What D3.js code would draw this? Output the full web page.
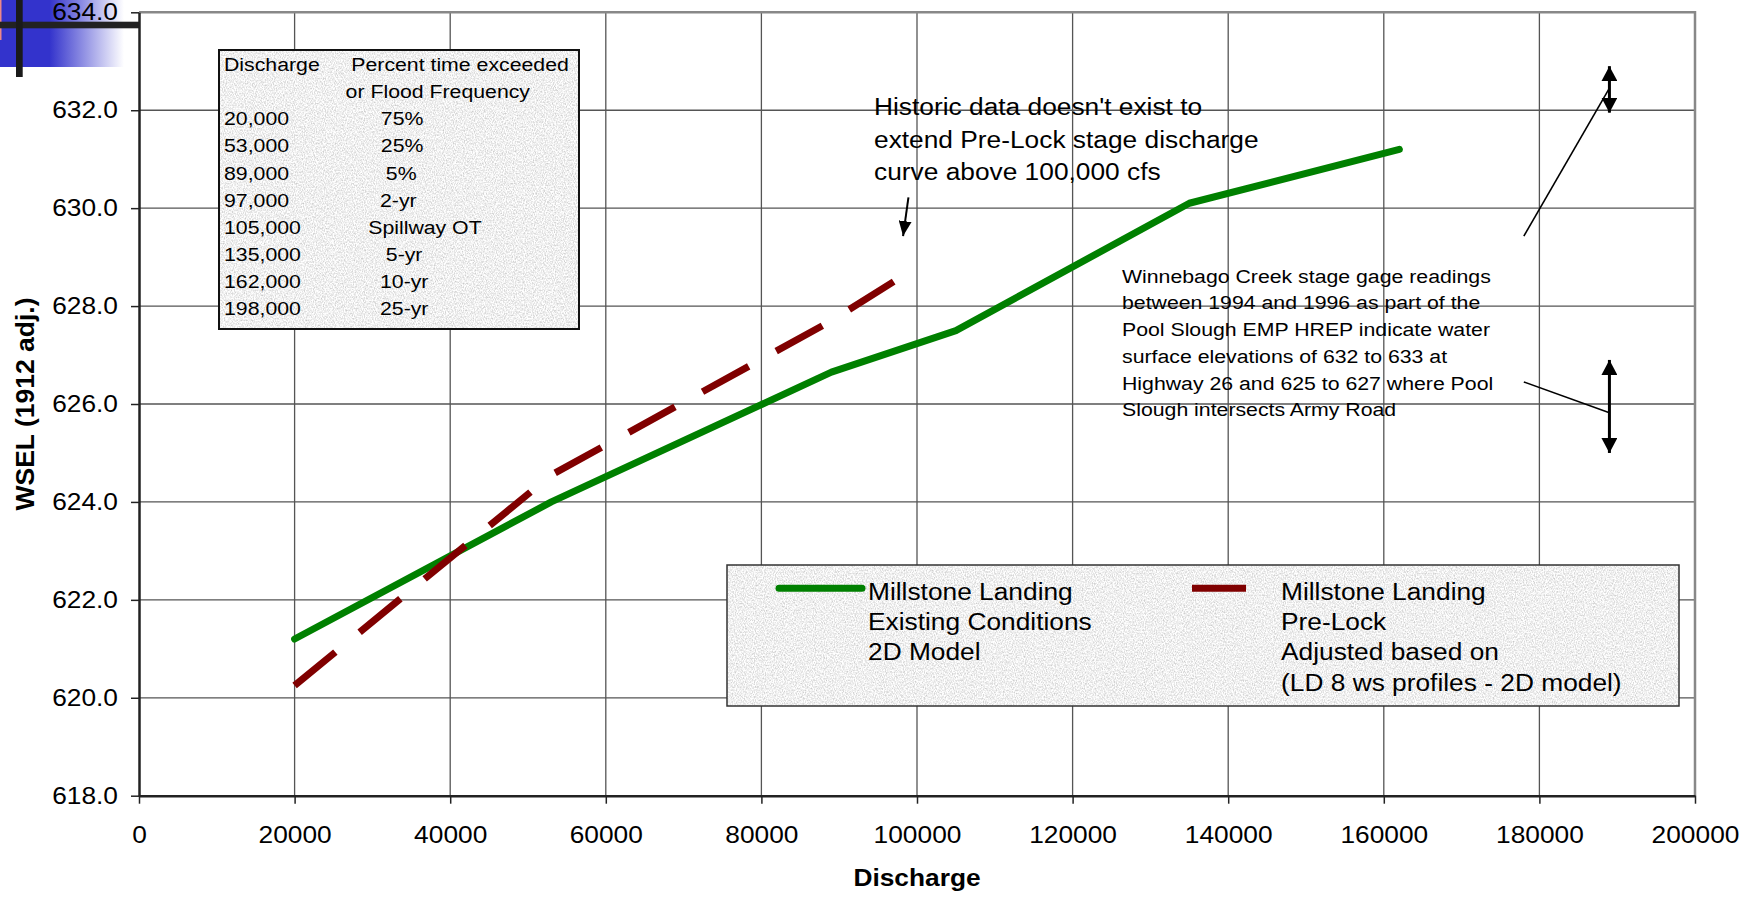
<!DOCTYPE html>
<html>
<head>
<meta charset="utf-8">
<script src="https://cdn.jsdelivr.net/npm/d3@7"></script>
<style>
  html, body { margin: 0; padding: 0; background: #ffffff; }
  svg { display: block; font-family: "Liberation Sans", Arial, sans-serif; }
</style>
</head>
<body>
<svg id="chart" width="1762" height="897"></svg>
<script>
// ---------------- data ----------------
const xTicks = [0, 20000, 40000, 60000, 80000, 100000, 120000, 140000, 160000, 180000, 200000];
const yTicks = [618, 620, 622, 624, 626, 628, 630, 632, 634];

const existingQ = [20000, 53000, 89000, 105000, 135000, 162000];
const existingWSEL = [621.2, 624.0, 626.65, 627.5, 630.1, 631.2];

const preLockQ = [20000, 53000, 89000, 97000];
const preLockWSEL = [620.25, 624.55, 627.7, 628.5];

const tableDischarge = ["20,000", "53,000", "89,000", "97,000", "105,000", "135,000", "162,000", "198,000"];
const tableFrequency = ["75%", "25%", "5%", "2-yr", "Spillway OT", "5-yr", "10-yr", "25-yr"];

// Winnebago Creek gage ranges (WSEL lo/hi) drawn at one discharge
const gageQ = 189000;
const gageLo = [631.95, 625.0];
const gageHi = [632.9, 626.9];
// leader lines from note to the gage arrows
const leaderFromQ = [178000, 178000];
const leaderFromW = [629.43, 626.45];
const leaderToW = [632.45, 625.82];
// historic note arrow
const histArrowQ = [98900, 98210];
const histArrowW = [630.22, 629.43];

const legendExisting = ["Millstone Landing", "Existing Conditions", "2D Model"];
const legendPreLock = ["Millstone Landing", "Pre-Lock", "Adjusted based on", "(LD 8 ws profiles - 2D model)"];
const histNote = ["Historic data doesn't exist to", "extend Pre-Lock stage discharge", "curve above 100,000 cfs"];
const gageNote = ["Winnebago Creek stage gage readings", "between 1994 and 1996 as part of the",
  "Pool Slough EMP HREP indicate water", "surface elevations of 632 to 633 at",
  "Highway 26 and 625 to 627 where Pool", "Slough intersects Army Road"];

// ---------------- layout ----------------
const SX = 1.12;               // horizontal text stretch of the original
const plot = { left: 139, right: 1695, top: 12.3, bottom: 795.7 };
const svg = d3.select("#chart");

const x = d3.scaleLinear().domain([0, 200000]).range([plot.left, plot.right]);
const y = d3.scaleLinear().domain([618, 634]).range([plot.bottom, plot.top]);

function txt(parent, px, py, s, opt = {}) {
  return parent.append("text")
    .attr("transform", `translate(${px},${py}) scale(${SX},1)`)
    .attr("font-size", opt.size || 23.5)
    .attr("font-weight", opt.weight || "normal")
    .attr("text-anchor", opt.anchor || "start")
    .attr("fill", "#000")
    .text(s);
}
function stretchTicks(sel) {
  sel.selectAll(".tick text").each(function () {
    const t = d3.select(this);
    const ox = +t.attr("x") || 0;
    t.attr("x", ox / SX).attr("transform", `scale(${SX},1)`);
  });
}

const defs = svg.append("defs");
// granite texture filter
const f = defs.append("filter").attr("id", "granite")
  .attr("x", 0).attr("y", 0).attr("width", 1).attr("height", 1)
  .attr("color-interpolation-filters", "sRGB");
f.append("feTurbulence").attr("type", "fractalNoise").attr("baseFrequency", "0.9 0.6")
  .attr("numOctaves", 2).attr("seed", 7).attr("result", "noise");
f.append("feColorMatrix").attr("in", "noise").attr("type", "matrix")
  .attr("values", "0.40 0 0 0 0.74  0.40 0 0 0 0.74  0.40 0 0 0 0.74  0 0 0 0 1").attr("result", "gray");
f.append("feComposite").attr("in", "gray").attr("in2", "SourceGraphic").attr("operator", "in");

// blue slide gradient
const lg = defs.append("linearGradient").attr("id", "blueFade").attr("x1", 0).attr("x2", 1).attr("y1", 0).attr("y2", 0);
lg.append("stop").attr("offset", "0%").attr("stop-color", "#3333cc");
lg.append("stop").attr("offset", "40%").attr("stop-color", "#3333cc");
lg.append("stop").attr("offset", "100%").attr("stop-color", "#ffffff");

function arrowMarker(id, w, h, orient) {
  defs.append("marker").attr("id", id).attr("viewBox", `0 0 ${h} ${w}`)
    .attr("refX", h).attr("refY", w / 2).attr("markerWidth", h).attr("markerHeight", w)
    .attr("markerUnits", "userSpaceOnUse").attr("orient", orient)
    .append("path").attr("d", `M0,0 L${h},${w / 2} L0,${w} Z`).attr("fill", "#000");
}
arrowMarker("arrowSmall", 13, 15, "auto");
arrowMarker("arrowBig", 16, 15, "auto-start-reverse");

// ---------------- slide decoration ----------------
svg.append("rect").attr("x", 0).attr("y", 0).attr("width", 124).attr("height", 67).attr("fill", "url(#blueFade)");
svg.append("rect").attr("x", 0).attr("y", 0).attr("width", 1.5).attr("height", 40).attr("fill", "#e88");
svg.append("rect").attr("x", 0).attr("y", 21.7).attr("width", 139).attr("height", 6.6).attr("fill", "#222");
svg.append("rect").attr("x", 16).attr("y", 0).attr("width", 6.7).attr("height", 77).attr("fill", "#1a1a1a");

// ---------------- grid ----------------
const grid = svg.append("g");
grid.selectAll(".gx").data(xTicks.slice(1, -1)).join("line")
  .attr("x1", d => x(d)).attr("x2", d => x(d)).attr("y1", plot.top).attr("y2", plot.bottom)
  .attr("stroke", "#555").attr("stroke-width", 1.3);
grid.selectAll(".gy").data(yTicks.slice(1, -1)).join("line")
  .attr("y1", d => y(d)).attr("y2", d => y(d)).attr("x1", plot.left).attr("x2", plot.right)
  .attr("stroke", "#555").attr("stroke-width", 1.3);
svg.append("path")
  .attr("d", `M${plot.left},${plot.top} H${plot.right} V${plot.bottom}`)
  .attr("fill", "none").attr("stroke", "#888").attr("stroke-width", 2.5);

// ---------------- axes ----------------
const yAxis = svg.append("g").attr("transform", `translate(${plot.left},0)`)
  .call(d3.axisLeft(y).tickValues(yTicks).tickFormat(d3.format(".1f")).tickSizeInner(8).tickSizeOuter(0).tickPadding(13));
const xAxis = svg.append("g").attr("transform", `translate(0,${plot.bottom})`)
  .call(d3.axisBottom(x).tickValues(xTicks).tickFormat(d3.format("d")).tickSizeInner(8).tickSizeOuter(0).tickPadding(22.5));
[yAxis, xAxis].forEach(a => {
  a.select(".domain").attr("stroke", "#222").attr("stroke-width", 2.5);
  a.selectAll(".tick line").attr("stroke", "#222").attr("stroke-width", 1.5);
  a.selectAll(".tick text").attr("font-size", 23.5).attr("font-family", "Liberation Sans, Arial, sans-serif").attr("fill", "#000");
  stretchTicks(a);
});
xAxis.selectAll(".tick text").attr("dy", "0.72em");

// axis titles
txt(svg, (plot.left + plot.right) / 2, 886, "Discharge", { weight: "bold", anchor: "middle" });
svg.append("text")
  .attr("transform", `translate(34,${(plot.top + plot.bottom) / 2}) rotate(-90)`)
  .attr("text-anchor", "middle").attr("font-size", 26.5).attr("font-weight", "bold").text("WSEL (1912 adj.)");

// ---------------- series ----------------
const line = d3.line().x(d => x(d[0])).y(d => y(d[1]));
svg.append("path").datum(d3.zip(existingQ, existingWSEL)).attr("d", line)
  .attr("fill", "none").attr("stroke", "#008000").attr("stroke-width", 7)
  .attr("stroke-linecap", "round").attr("stroke-linejoin", "round");
svg.append("path").datum(d3.zip(preLockQ, preLockWSEL)).attr("d", line)
  .attr("fill", "none").attr("stroke", "#800000").attr("stroke-width", 7)
  .attr("stroke-dasharray", "52.7,31.4").attr("stroke-linecap", "butt");

// ---------------- annotations ----------------
histNote.forEach((s, i) => txt(svg, 874, 115 + i * 32.7, s));
svg.append("line")
  .attr("x1", x(histArrowQ[0])).attr("y1", y(histArrowW[0]))
  .attr("x2", x(histArrowQ[1])).attr("y2", y(histArrowW[1]))
  .attr("stroke", "#000").attr("stroke-width", 2).attr("marker-end", "url(#arrowSmall)");

gageNote.forEach((s, i) => txt(svg, 1122, 282.7 + i * 26.7, s, { size: 19 }));
gageLo.forEach((lo, i) => {
  svg.append("line")
    .attr("x1", x(gageQ)).attr("x2", x(gageQ)).attr("y1", y(lo)).attr("y2", y(gageHi[i]))
    .attr("stroke", "#000").attr("stroke-width", 3)
    .attr("marker-start", "url(#arrowBig)").attr("marker-end", "url(#arrowBig)");
  svg.append("line")
    .attr("x1", x(leaderFromQ[i])).attr("y1", y(leaderFromW[i]))
    .attr("x2", x(gageQ)).attr("y2", y(leaderToW[i]))
    .attr("stroke", "#000").attr("stroke-width", 1.6);
});

// ---------------- frequency table ----------------
const tbl = svg.append("g");
tbl.append("rect").attr("x", 219).attr("y", 50).attr("width", 360).attr("height", 279)
  .attr("fill", "#fff").attr("filter", "url(#granite)");
tbl.append("rect").attr("x", 219).attr("y", 50).attr("width", 360).attr("height", 279)
  .attr("fill", "none").attr("stroke", "#111").attr("stroke-width", 2);
txt(tbl, 224, 71, "Discharge", { size: 19 });
txt(tbl, 351.3, 71, "Percent time exceeded", { size: 19 });
txt(tbl, 345.6, 98.3, "or Flood Frequency", { size: 19 });
const freqStart = [380.8, 380.8, 385.8, 380, 368.2, 385.8, 380, 380];
tableDischarge.forEach((s, i) => {
  txt(tbl, 224, 125.3 + i * 27.14, s, { size: 19 });
  txt(tbl, freqStart[i], 125.3 + i * 27.14, tableFrequency[i], { size: 19 });
});

// ---------------- legend ----------------
const leg = svg.append("g");
leg.append("rect").attr("x", 727).attr("y", 565).attr("width", 952).attr("height", 141)
  .attr("fill", "#fff").attr("filter", "url(#granite)");
leg.append("rect").attr("x", 727).attr("y", 565).attr("width", 952).attr("height", 141)
  .attr("fill", "none").attr("stroke", "#333").attr("stroke-width", 1.5);
leg.append("line").attr("x1", 779).attr("x2", 862).attr("y1", 588.3).attr("y2", 588.3)
  .attr("stroke", "#008000").attr("stroke-width", 7).attr("stroke-linecap", "round");
leg.append("line").attr("x1", 1192).attr("x2", 1246).attr("y1", 588.3).attr("y2", 588.3)
  .attr("stroke", "#800000").attr("stroke-width", 7);
legendExisting.forEach((s, i) => txt(leg, 868, 600 + i * 30.2, s));
legendPreLock.forEach((s, i) => txt(leg, 1281, 600 + i * 30.2, s));
</script>
</body>
</html>
